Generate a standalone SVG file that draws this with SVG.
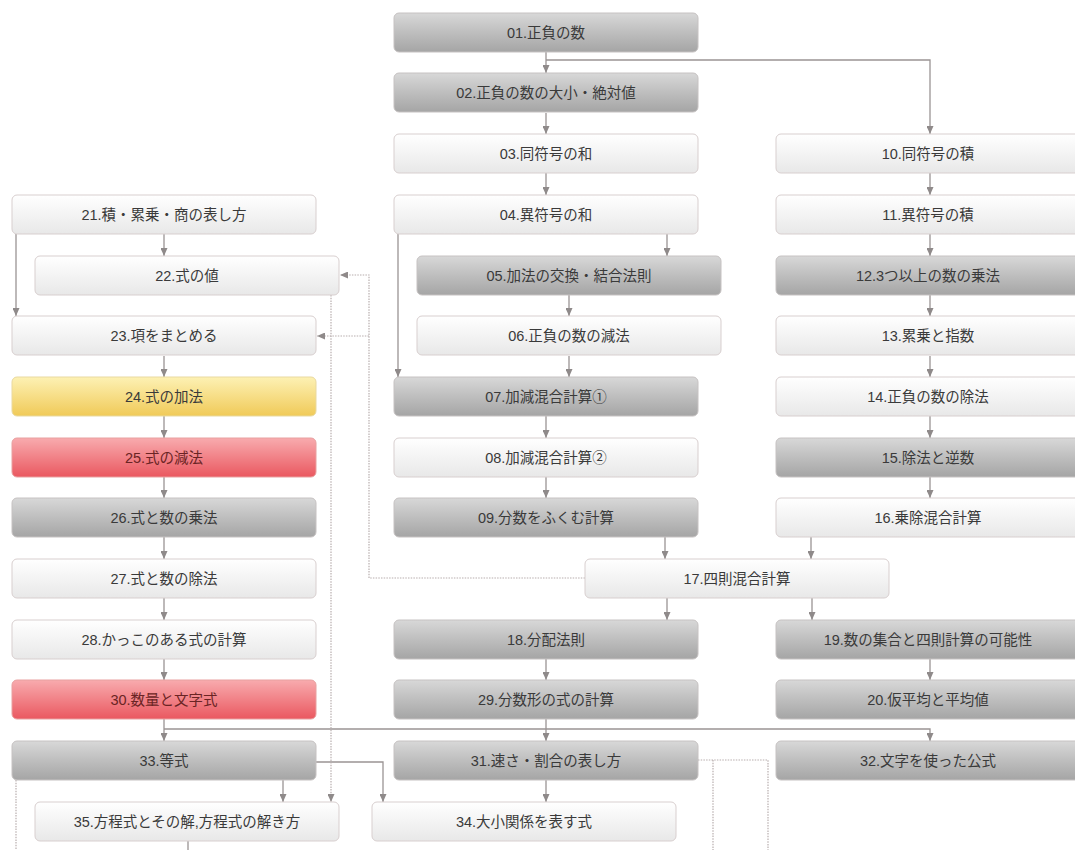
<svg xmlns="http://www.w3.org/2000/svg" width="1075" height="850" viewBox="0 0 1075 850">
<defs>
<linearGradient id="gGray" x1="0" y1="0" x2="0" y2="1">
<stop offset="0" stop-color="#d8d8d8"/><stop offset="0.5" stop-color="#bebebe"/><stop offset="1" stop-color="#a5a5a5"/>
</linearGradient>
<linearGradient id="gWhite" x1="0" y1="0" x2="0" y2="1">
<stop offset="0" stop-color="#ffffff"/><stop offset="1" stop-color="#e8e8e8"/>
</linearGradient>
<linearGradient id="gYellow" x1="0" y1="0" x2="0" y2="1">
<stop offset="0" stop-color="#fdf1b4"/><stop offset="1" stop-color="#f0ca58"/>
</linearGradient>
<linearGradient id="gRed" x1="0" y1="0" x2="0" y2="1">
<stop offset="0" stop-color="#f8abae"/><stop offset="1" stop-color="#ea5860"/>
</linearGradient>
<marker id="arr" viewBox="0 0 8 7" refX="8" refY="3.5" markerWidth="8" markerHeight="7" markerUnits="userSpaceOnUse" orient="auto">
<path d="M0,0 L8,3.5 L0,7 z" fill="#8f8a8a"/>
</marker>
</defs>
<style>
rect{rx:5px;ry:5px}
.g rect{fill:url(#gGray);stroke:#c6c2c2;stroke-width:1}
.w rect{fill:url(#gWhite);stroke:#d8cfcf;stroke-width:1}
.y rect{fill:url(#gYellow);stroke:#e9d9a0;stroke-width:1}
.r rect{fill:url(#gRed);stroke:#e8a0a0;stroke-width:1}
text{font-family:"Liberation Sans","Noto Sans CJK JP",sans-serif;font-size:14.5px;fill:#3a3a3a;text-anchor:middle}
.r text{fill:#6a2424}
#connectors path{fill:none;stroke:#9a9494;stroke-width:1.3}
#connectors path.arr{marker-end:url(#arr)}
#connectors path.dot{stroke:#b8aeae;stroke-dasharray:1.5 1.2;stroke-width:1.2}
</style>
<rect x="0" y="0" width="1075" height="850" fill="#ffffff" style="rx:0;ry:0"/>
<g id="connectors">
<path class="arr" d="M546 52 V73"/>
<path class="arr" d="M546 60 H930 V134"/>
<path class="arr" d="M546 113 V134"/>
<path class="arr" d="M546 173 V195"/>
<path class="arr" d="M667 234 V256"/>
<path class="arr" d="M398 234 V377"/>
<path class="arr" d="M569 295 V316"/>
<path class="arr" d="M569 356 V377"/>
<path class="arr" d="M546 416 V438"/>
<path class="arr" d="M546 477 V498"/>
<path class="arr" d="M665 537 V559"/>
<path class="arr" d="M811 537 V559"/>
<path class="arr" d="M930 173 V195"/>
<path class="arr" d="M930 234 V256"/>
<path class="arr" d="M930 295 V316"/>
<path class="arr" d="M930 356 V377"/>
<path class="arr" d="M930 416 V438"/>
<path class="arr" d="M930 477 V498"/>
<path class="arr" d="M667 598 V620"/>
<path class="arr" d="M812 598 V620"/>
<path class="arr" d="M546 659 V680"/>
<path class="arr" d="M930 659 V680"/>
<path class="arr" d="M546 719 V741"/>
<path class="arr" d="M164 719 V741"/>
<path class="arr" d="M164 729 H930 V741"/>
<path class="arr" d="M316 762 H383 V802"/>
<path class="arr" d="M283 780 V802"/>
<path class="arr" d="M546 780 V802"/>
<path class="arr" d="M164 234 V256"/>
<path class="arr" d="M16 234 V316"/>
<path class="arr" d="M164 356 V377"/>
<path class="arr" d="M164 416 V438"/>
<path class="arr" d="M164 477 V498"/>
<path class="arr" d="M164 537 V559"/>
<path class="arr" d="M164 598 V620"/>
<path class="arr" d="M164 659 V680"/>
<path d="M188 841 V850"/>
<path class="dot arr" d="M331 295 V802"/>
<path class="dot arr" d="M585 578 H369 V275 H340"/>
<path class="dot arr" d="M369 336 H317"/>
<path class="dot" d="M16 780 V850"/>
<path class="dot" d="M698 760 H768 V850"/>
<path class="dot" d="M713 760 V850"/>
</g>
<g id="n01" class="g"><rect x="394" y="13" width="304" height="39"/><text x="546" y="37.5">01.正負の数</text></g>
<g id="n02" class="g"><rect x="394" y="73" width="304" height="39"/><text x="546" y="97.5">02.正負の数の大小・絶対値</text></g>
<g id="n03" class="w"><rect x="394" y="134" width="304" height="39"/><text x="546" y="158.5">03.同符号の和</text></g>
<g id="n04" class="w"><rect x="394" y="195" width="304" height="39"/><text x="546" y="219.5">04.異符号の和</text></g>
<g id="n05" class="g"><rect x="417" y="256" width="304" height="39"/><text x="569" y="280.5">05.加法の交換・結合法則</text></g>
<g id="n06" class="w"><rect x="417" y="316" width="304" height="39"/><text x="569" y="340.5">06.正負の数の減法</text></g>
<g id="n07" class="g"><rect x="394" y="377" width="304" height="39"/><text x="546" y="401.5">07.加減混合計算①</text></g>
<g id="n08" class="w"><rect x="394" y="438" width="304" height="39"/><text x="546" y="462.5">08.加減混合計算②</text></g>
<g id="n09" class="g"><rect x="394" y="498" width="304" height="39"/><text x="546" y="522.5">09.分数をふくむ計算</text></g>
<g id="n10" class="w"><rect x="776" y="134" width="304" height="39"/><text x="928" y="158.5">10.同符号の積</text></g>
<g id="n11" class="w"><rect x="776" y="195" width="304" height="39"/><text x="928" y="219.5">11.異符号の積</text></g>
<g id="n12" class="g"><rect x="776" y="256" width="304" height="39"/><text x="928" y="280.5">12.3つ以上の数の乗法</text></g>
<g id="n13" class="w"><rect x="776" y="316" width="304" height="39"/><text x="928" y="340.5">13.累乗と指数</text></g>
<g id="n14" class="w"><rect x="776" y="377" width="304" height="39"/><text x="928" y="401.5">14.正負の数の除法</text></g>
<g id="n15" class="g"><rect x="776" y="438" width="304" height="39"/><text x="928" y="462.5">15.除法と逆数</text></g>
<g id="n16" class="w"><rect x="776" y="498" width="304" height="39"/><text x="928" y="522.5">16.乗除混合計算</text></g>
<g id="n17" class="w"><rect x="585" y="559" width="304" height="39"/><text x="737" y="583.5">17.四則混合計算</text></g>
<g id="n18" class="g"><rect x="394" y="620" width="304" height="39"/><text x="546" y="644.5">18.分配法則</text></g>
<g id="n19" class="g"><rect x="776" y="620" width="304" height="39"/><text x="928" y="644.5">19.数の集合と四則計算の可能性</text></g>
<g id="n20" class="g"><rect x="776" y="680" width="304" height="39"/><text x="928" y="704.5">20.仮平均と平均値</text></g>
<g id="n21" class="w"><rect x="12" y="195" width="304" height="39"/><text x="164" y="219.5">21.積・累乗・商の表し方</text></g>
<g id="n22" class="w"><rect x="35" y="256" width="304" height="39"/><text x="187" y="280.5">22.式の値</text></g>
<g id="n23" class="w"><rect x="12" y="316" width="304" height="39"/><text x="164" y="340.5">23.項をまとめる</text></g>
<g id="n24" class="y"><rect x="12" y="377" width="304" height="39"/><text x="164" y="401.5">24.式の加法</text></g>
<g id="n25" class="r"><rect x="12" y="438" width="304" height="39"/><text x="164" y="462.5">25.式の減法</text></g>
<g id="n26" class="g"><rect x="12" y="498" width="304" height="39"/><text x="164" y="522.5">26.式と数の乗法</text></g>
<g id="n27" class="w"><rect x="12" y="559" width="304" height="39"/><text x="164" y="583.5">27.式と数の除法</text></g>
<g id="n28" class="w"><rect x="12" y="620" width="304" height="39"/><text x="164" y="644.5">28.かっこのある式の計算</text></g>
<g id="n29" class="g"><rect x="394" y="680" width="304" height="39"/><text x="546" y="704.5">29.分数形の式の計算</text></g>
<g id="n30" class="r"><rect x="12" y="680" width="304" height="39"/><text x="164" y="704.5">30.数量と文字式</text></g>
<g id="n31" class="g"><rect x="394" y="741" width="304" height="39"/><text x="546" y="765.5">31.速さ・割合の表し方</text></g>
<g id="n32" class="g"><rect x="776" y="741" width="304" height="39"/><text x="928" y="765.5">32.文字を使った公式</text></g>
<g id="n33" class="g"><rect x="12" y="741" width="304" height="39"/><text x="164" y="765.5">33.等式</text></g>
<g id="n34" class="w"><rect x="372" y="802" width="304" height="39"/><text x="524" y="826.5">34.大小関係を表す式</text></g>
<g id="n35" class="w"><rect x="35" y="802" width="304" height="39"/><text x="187" y="826.5">35.方程式とその解,方程式の解き方</text></g>
</svg>
